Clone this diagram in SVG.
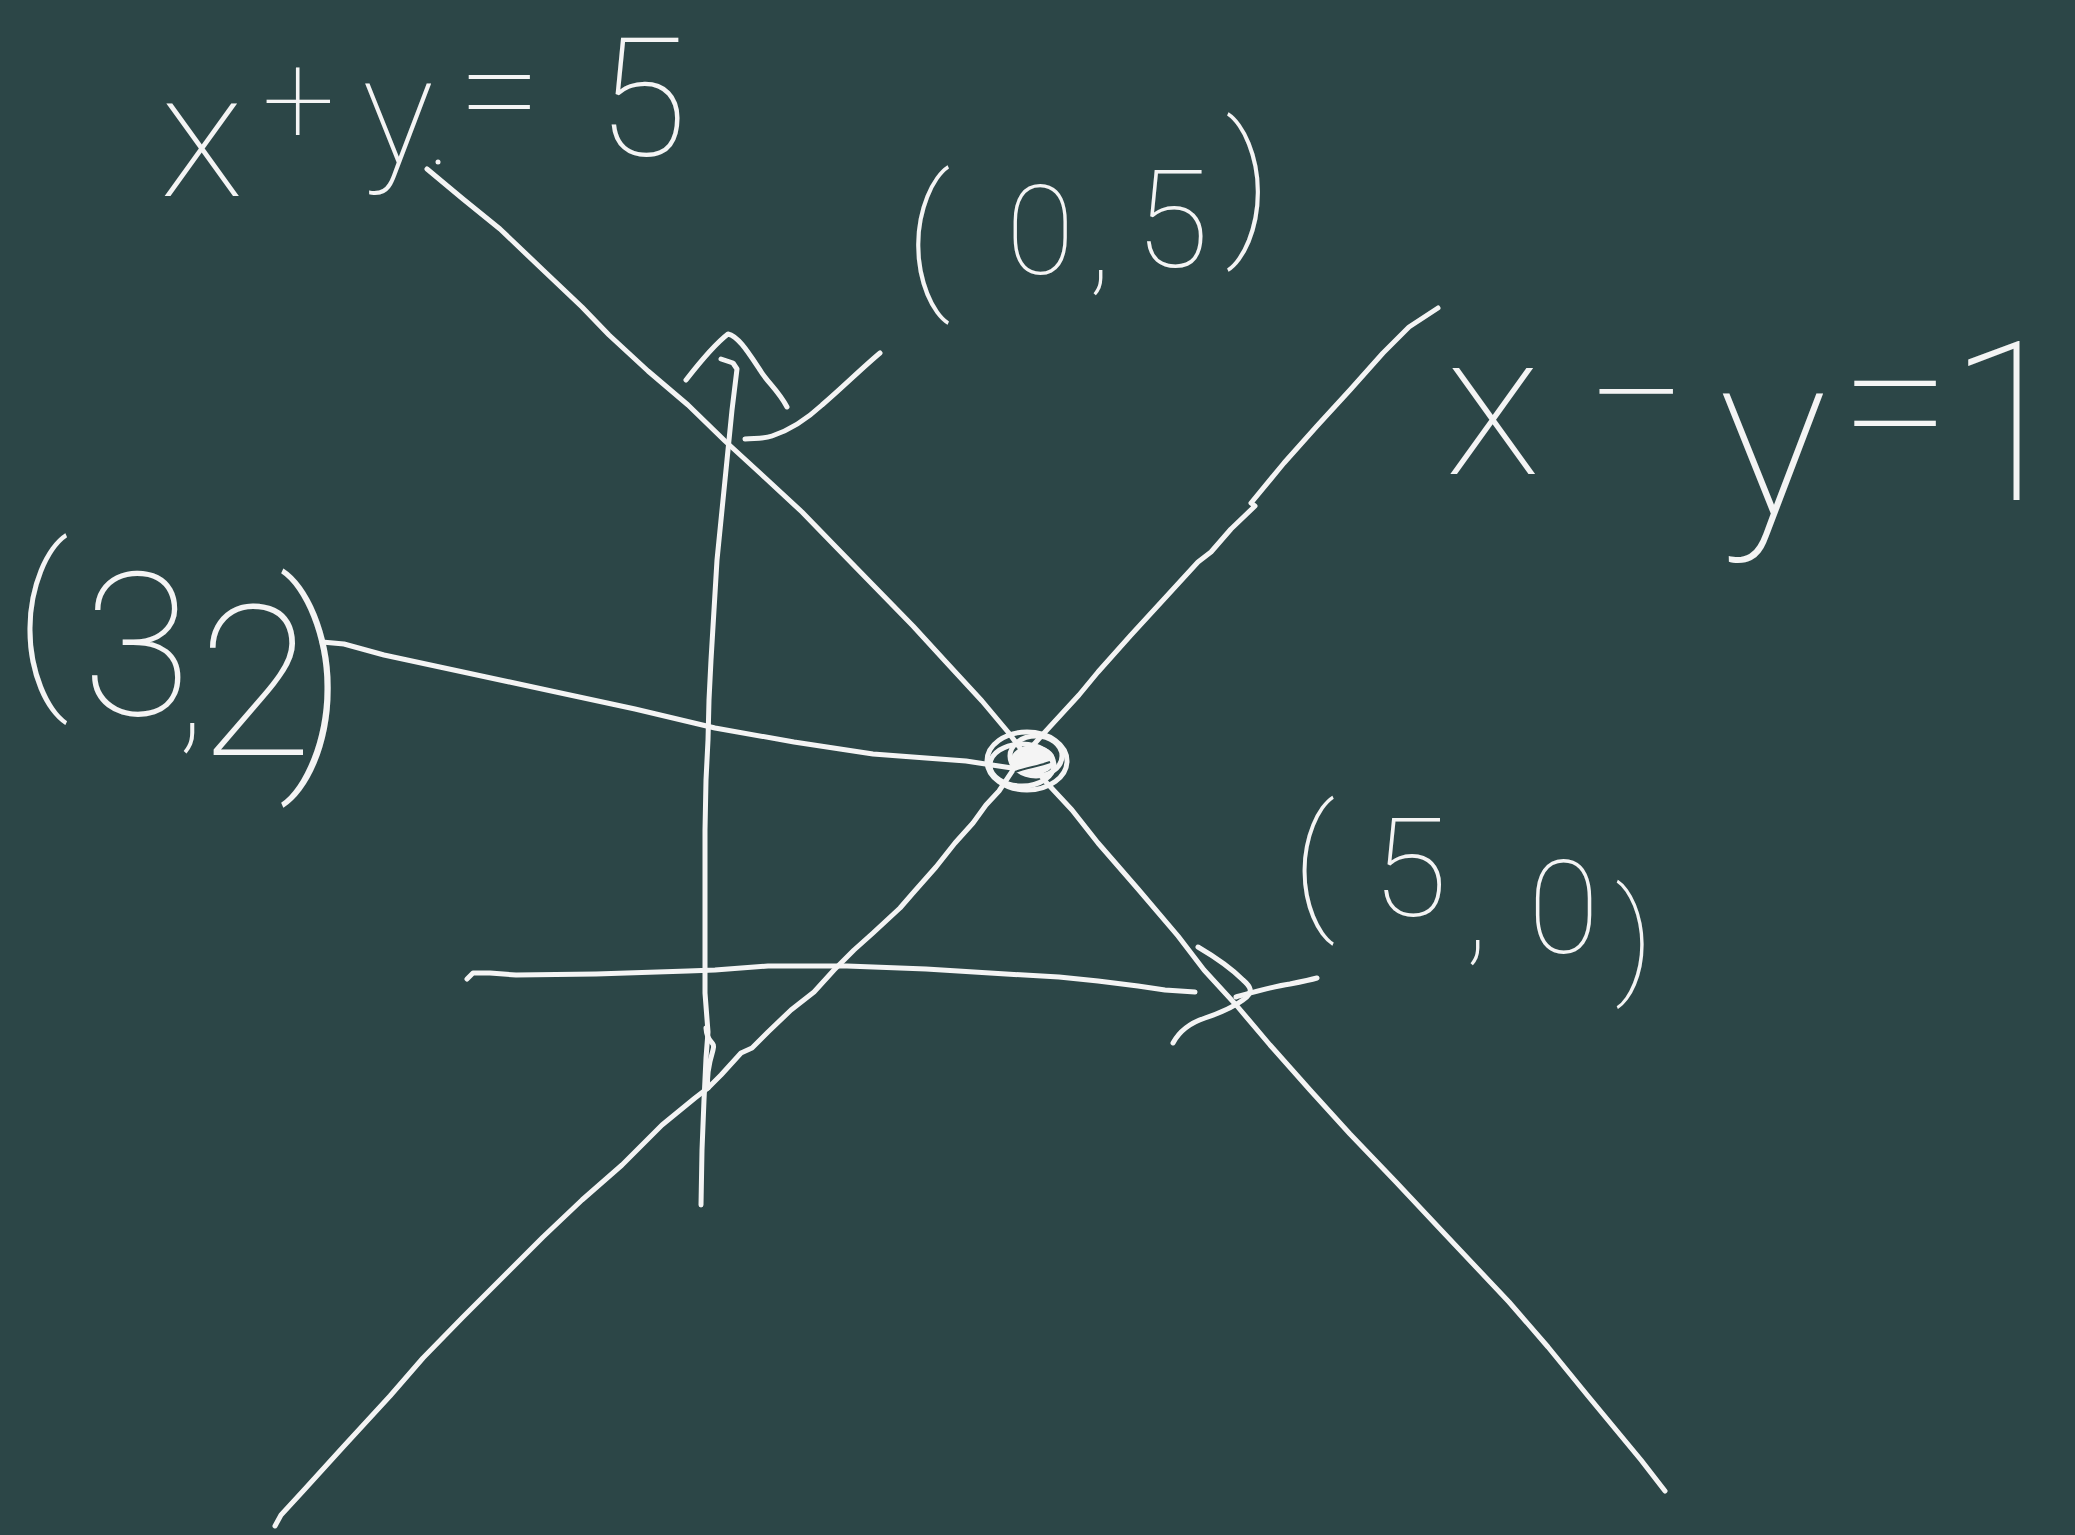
<svg xmlns="http://www.w3.org/2000/svg" width="2075" height="1535" viewBox="0 0 2075 1535">
<style>
.s{fill:none;stroke:#f4f4f4;stroke-width:5;stroke-linecap:round;stroke-linejoin:round}
.t{fill:#f4f4f4;font-family:Roboto,Lato,Inter,"Noto Sans","DejaVu Sans",sans-serif;font-weight:100}
</style>
<rect width="2075" height="1535" fill="#2c4647"/>
<g id="connectors">
<path class="s" d="M427,169 L463,199 L500,229 L543,270 L582,307 L609,335 L648,371 L688,405 L725,441 L761,474 L802,512 L834,545 L873,585 L913,626 L946,662 L982,701 L1008,732 L1045,781 L1072,810 L1098,843 L1138,889 L1178,936 L1204,970 L1237,1006 L1270,1045 L1310,1090 L1350,1134 L1396,1182 L1442,1231 L1509,1302 L1548,1347 L1588,1396 L1641,1460 L1665,1491"/>
<circle cx="438" cy="162" r="2.5" fill="#f4f4f4"/>
<path class="s" d="M1438,308 L1409,327 L1383,353 L1350,390 L1317,426 L1284,463 L1251,503 L1255,506 L1231,529 L1211,552 L1198,562 L1165,598 L1131,635 L1098,672 L1079,695 L1045,732 L1019,761 L999,791 L986,805 L973,823 L955,843 L936,867 L913,893 L900,908 L873,933 L854,950 L834,970 L814,992 L791,1010 L768,1032 L752,1048 L741,1053 L721,1075 L708,1088 L695,1098 L662,1125 L622,1165 L582,1200 L543,1237 L503,1277 L463,1317 L423,1358 L390,1396 L344,1446 L304,1490 L281,1515 L275,1526"/>
<path class="s" d="M721,359 L733,363 L737,369 L732,410 L727,460 L722,510 L717,560 L714,610 L711,660 L709,700 L708,740 L706,780 L705,830 L705,880 L705,940 L705,993 L708,1032 L706,1058 L704,1100 L702,1150 L701,1205"/>
<path class="s" d="M706,1028 C707,1045 716,1040 713,1050 C710,1060 706,1075 708,1088"/>
<path class="s" d="M686,380 C700,362 715,344 728,334 C738,336 748,352 760,370 C767,382 778,390 787,407"/>
<path class="s" d="M745,439 C755,438 763,439 772,436 C790,430 808,418 822,405 C842,388 862,368 880,353"/>
<path class="s" d="M467,979 L473,973 L490,973 L516,975 L596,974 L688,971 L715,970 L768,966 L847,966 L926,969 L1006,974 L1059,977 L1098,981 L1138,986 L1165,990 L1195,992"/>
<path class="s" d="M1198,947 C1215,957 1232,969 1243,980 C1250,986 1255,992 1243,1000 C1232,1008 1220,1013 1205,1018 C1190,1023 1180,1030 1173,1043"/>
<path class="s" d="M1236,997 C1250,993 1270,987 1290,984 C1300,982 1310,980 1317,978"/>
<path class="s" d="M322,642 L344,644 L384,655 L463,672 L556,692 L635,709 L715,728 L794,742 L873,754 L926,758 L966,761 L992,765 L1012,768 L1045,768"/>
</g>
<g id="intersection">
<ellipse class="s" cx="1027" cy="761" rx="40" ry="29"/>
<ellipse class="s" cx="1022" cy="765" rx="32" ry="21"/>
<ellipse class="s" cx="1036" cy="756" rx="26" ry="20"/>
<ellipse cx="1033" cy="760" rx="22" ry="15" fill="#f4f4f4"/>
<path d="M1015,772 C1025,768 1040,766 1050,762" fill="none" stroke="#2c4647" stroke-width="2"/>
</g>
<g id="label-xy5">
<text class="t"><tspan x="160" y="196" font-size="175">x</tspan><tspan x="262" y="144" font-size="130">+</tspan><tspan x="362" y="163" font-size="150">y</tspan><tspan x="458" y="141" font-size="150">=</tspan><tspan x="597" y="155" font-size="165">5</tspan></text>
</g>
<g id="label-05">
<text class="t"><tspan x="905" y="289" font-size="155">(</tspan><tspan x="1006" y="274" font-size="125">0</tspan><tspan x="1088" y="280" font-size="125">,</tspan><tspan x="1135" y="267" font-size="135">5</tspan><tspan x="1225" y="236" font-size="155">)</tspan></text>
</g>
<g id="label-xy1">
<text class="t"><tspan x="1445" y="474" font-size="200">x</tspan><tspan x="1585" y="457" font-size="180">−</tspan><tspan x="1718" y="514" font-size="228">y</tspan><tspan x="1840" y="469" font-size="200">=</tspan><tspan x="1948" y="500" font-size="222">1</tspan></text>
</g>
<g id="label-32">
<text class="t"><tspan x="14" y="682" font-size="187">(</tspan><tspan x="82" y="715" font-size="200">3</tspan><tspan x="177" y="735" font-size="150">,</tspan><tspan x="198" y="755" font-size="210">2</tspan><tspan x="278" y="754" font-size="234">)</tspan></text>
</g>
<g id="label-50">
<text class="t"><tspan x="1292" y="912" font-size="147">(</tspan><tspan x="1372" y="916" font-size="138">5</tspan><tspan x="1465" y="950" font-size="125">,</tspan><tspan x="1528" y="953" font-size="130">0</tspan><tspan x="1615" y="980" font-size="127">)</tspan></text>
</g>
</svg>
